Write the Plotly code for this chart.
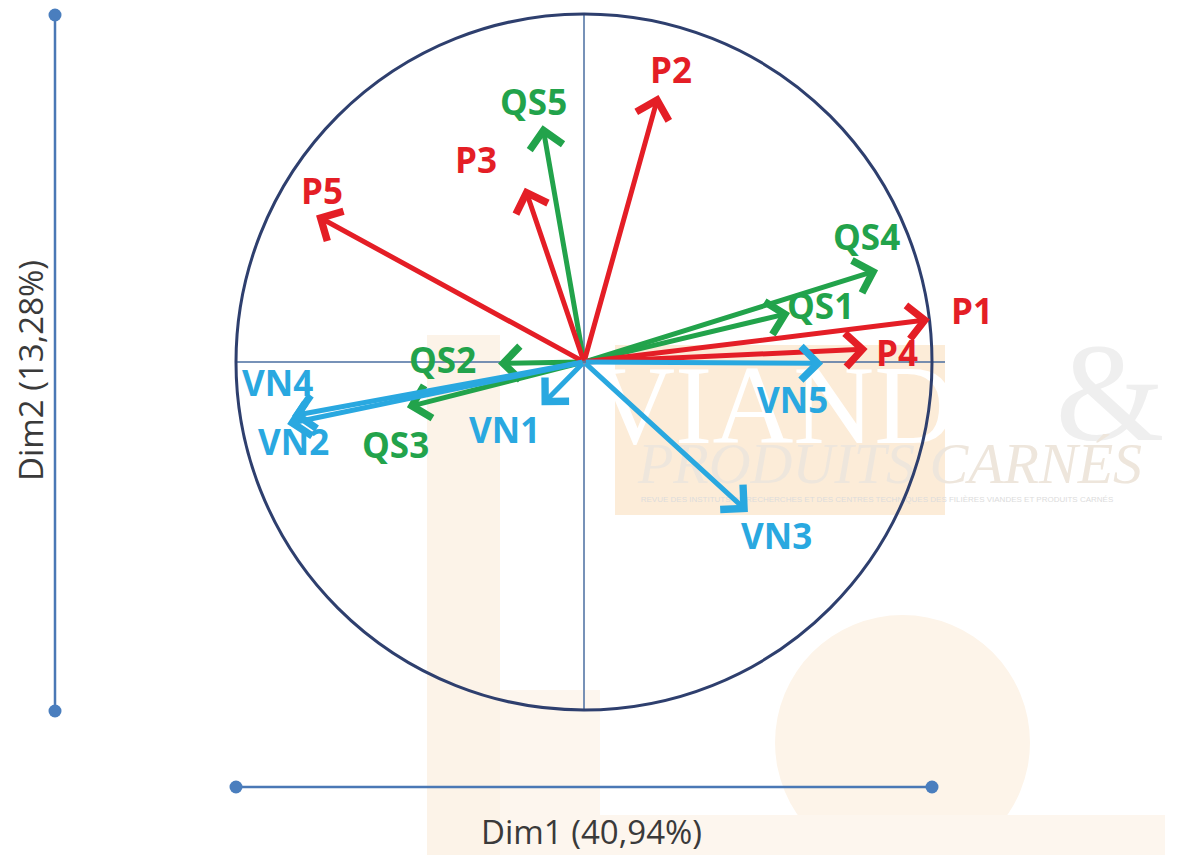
import plotly.graph_objects as go

# ---------------- data (loadings on Dim1 / Dim2) ----------------
p_names = ["P1", "P2", "P3", "P4", "P5"]
p_dim1 = [0.994, 0.214, -0.170, 0.815, -0.770]
p_dim2 = [0.122, 0.767, 0.501, 0.037, 0.421]

qs_names = ["QS1", "QS2", "QS3", "QS4", "QS5"]
qs_dim1 = [0.592, -0.247, -0.509, 0.845, -0.119]
qs_dim2 = [0.141, -0.004, -0.130, 0.264, 0.680]

vn_names = ["VN1", "VN2", "VN3", "VN4", "VN5"]
vn_dim1 = [-0.122, -0.853, 0.471, -0.839, 0.687]
vn_dim2 = [-0.124, -0.178, -0.431, -0.155, -0.004]

dim1_title = "Dim1 (40,94%)"
dim2_title = "Dim2 (13,28%)"

# ---------------- styling / layout ----------------
W, H = 1179, 855
CX, CY, R = 584, 362, 348          # circle centre & radius in pixels

def dx(px):
    return (px - CX) / R

def dy(py):
    return (CY - py) / R

RED, GREEN, BLUE = "#e41e26", "#22a34b", "#29a8e0"
CIRCLE = "#2e3f6e"
AXIS = "#4a6ea0"
BAR = "#4a78b5"

label_shift = {
    "P1": (42, 9), "P2": (13, 26), "P3": (-49, 28), "P4": (29, -3), "P5": (6, 25),
    "QS1": (30, 7), "QS2": (-56, 4), "QS3": (-11, -37), "QS4": (-12, 34), "QS5": (-9, 24),
    "VN1": (-37, -24), "VN2": (6, -18), "VN3": (29, -24), "VN4": (-15, 33), "VN5": (-31, -36),
}

fig = go.Figure()

# ---- faint watermark (background) ----
wm_shapes = [
    dict(type="rect", x0=dx(427), x1=dx(500), y0=dy(335), y1=dy(860),
         fillcolor="#fcf3e8", line=dict(width=0), layer="below"),
    dict(type="rect", x0=dx(500), x1=dx(600), y0=dy(690), y1=dy(860),
         fillcolor="#fdf6ee", line=dict(width=0), layer="below"),
    dict(type="rect", x0=dx(615), x1=dx(945), y0=dy(345), y1=dy(515),
         fillcolor="#fcecd8", line=dict(width=0), layer="below"),
    dict(type="circle", x0=dx(775), x1=dx(1030), y0=dy(615), y1=dy(870),
         fillcolor="#fdf4e9", line=dict(width=0), layer="below"),
    dict(type="rect", x0=dx(600), x1=dx(1165), y0=dy(815), y1=dy(860),
         fillcolor="#fdf6ee", line=dict(width=0), layer="below"),
]
fig.add_trace(go.Scatter(x=[dx(840)], y=[dy(415)], mode="text", text=["VIANDES"],
                         textfont=dict(family="Liberation Serif", size=112, color="#ffffff"),
                         hoverinfo="skip", showlegend=False))
fig.add_trace(go.Scatter(x=[dx(1110)], y=[dy(405)], mode="text", text=["&"],
                         textfont=dict(family="Liberation Serif", size=140, color="#efefef"),
                         hoverinfo="skip", showlegend=False))
fig.add_trace(go.Scatter(x=[dx(890)], y=[dy(468)], mode="text", text=["PRODUITS CARNÉS"],
                         textfont=dict(family="Liberation Serif", size=58, color="#eee6dc",
                                       style="italic"),
                         hoverinfo="skip", showlegend=False))
fig.add_trace(go.Scatter(x=[dx(877)], y=[dy(500)], mode="text",
                         text=["REVUE DES INSTITUTS DE RECHERCHES ET DES CENTRES TECHNIQUES DES FILIÈRES VIANDES ET PRODUITS CARNÉS"],
                         textfont=dict(family="Liberation Sans", size=8, color="#dcdcdc"),
                         hoverinfo="skip", showlegend=False))

# ---- side dimension bars with end dots ----
fig.add_trace(go.Scatter(x=[dx(55), dx(55)], y=[dy(15), dy(711)], mode="lines+markers",
                         line=dict(color=BAR, width=2.5),
                         marker=dict(size=13, color="#4a7ebe"),
                         hoverinfo="skip", showlegend=False))
fig.add_trace(go.Scatter(x=[-1.0, 1.0], y=[dy(787), dy(787)], mode="lines+markers",
                         line=dict(color=BAR, width=2.5),
                         marker=dict(size=13, color="#4a7ebe"),
                         hoverinfo="skip", showlegend=False))

shapes = wm_shapes + [
    dict(type="line", x0=-1.0, x1=dx(945), y0=0, y1=0, line=dict(color=AXIS, width=1.5), layer="above"),
    dict(type="line", x0=0, x1=0, y0=-1.0, y1=1.0, line=dict(color=AXIS, width=1.5), layer="above"),
    dict(type="circle", x0=-1, x1=1, y0=-1, y1=1, line=dict(color=CIRCLE, width=3), layer="above"),
]

annotations = []
groups = [
    (qs_names, qs_dim1, qs_dim2, GREEN),
    (p_names, p_dim1, p_dim2, RED),
    (vn_names, vn_dim1, vn_dim2, BLUE),
]
for names, xs, ys, col in groups:
    for n, x, y in zip(names, xs, ys):
        annotations.append(dict(
            x=x, y=y, ax=0, ay=0, xref="x", yref="y", axref="x", ayref="y",
            text="", showarrow=True, arrowhead=4, arrowsize=1.3, arrowwidth=5,
            arrowcolor=col, standoff=0, startstandoff=0))
for names, xs, ys, col in groups:
    for n, x, y in zip(names, xs, ys):
        sx, sy = label_shift[n]
        annotations.append(dict(
            x=x, y=y, xref="x", yref="y", text=n, showarrow=False,
            xshift=sx, yshift=sy,
            font=dict(family="Open Sans", size=35, color=col, weight="bold")))

annotations.append(dict(x=dx(591), y=dy(831), xref="x", yref="y", text=dim1_title,
                        showarrow=False, font=dict(family="Open Sans", size=33, color="#3a3a3a")))
annotations.append(dict(x=dx(30), y=dy(371), xref="x", yref="y", text=dim2_title,
                        showarrow=False, textangle=-90,
                        font=dict(family="Open Sans", size=33, color="#3a3a3a")))

fig.update_layout(
    width=W, height=H,
    margin=dict(l=0, r=0, t=0, b=0),
    paper_bgcolor="white", plot_bgcolor="white",
    xaxis=dict(range=[dx(0), dx(W)], visible=False, fixedrange=True),
    yaxis=dict(range=[dy(H), dy(0)], visible=False, fixedrange=True),
    shapes=shapes, annotations=annotations, showlegend=False,
)

fig.write_html("out.html", config={"displayModeBar": False},
               post_script="document.body.style.margin='0';document.body.style.overflow='hidden';")
